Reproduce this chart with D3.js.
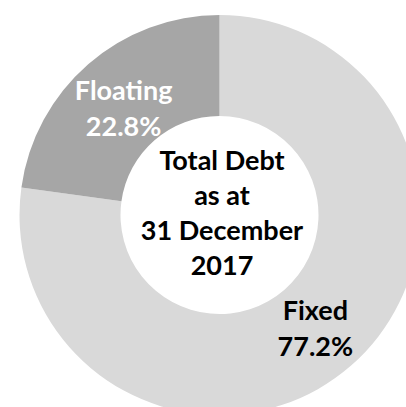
<!DOCTYPE html>
<html>
<head>
<meta charset="utf-8">
<script src="https://cdn.jsdelivr.net/npm/d3@7"></script>
<style>
  html, body { margin: 0; padding: 0; background: #fff; overflow: hidden; }
  svg text { font-family: Lato, "Open Sans", sans-serif; font-weight: bold; }
</style>
</head>
<body>
<div id="corpo"></div>
<script>
// data
var tipos = ["Fixed", "Floating"];
var valores = [77.2, 22.8];
var cores = ["#d9d9d9", "#a6a6a6"];
var corTexto = ["#000", "#fff"];
var centro = ["Total Debt", "as at", "31 December", "2017"];

var width = 406, height = 407;
var cx = 219.5, cy = 215;
var radius = 200;

var data = tipos.map(function(t, i){ return {tipo: t, valor: valores[i]}; });

var arc = d3.arc()
    .outerRadius(radius)
    .innerRadius(radius - 101);

var labelArc = d3.arc()
    .outerRadius(146)
    .innerRadius(146);

var pie = d3.pie()
    .sort(null)
    .value(function(d) { return d.valor; })(data);

var svg = d3.select("#corpo").append("svg")
    .attr("width", width)
    .attr("height", height)
    .append("g")
    .attr("transform", "translate(" + cx + "," + cy + ")");

var g = svg.selectAll(".arc")
    .data(pie)
    .enter().append("g")
    .attr("class", "arc");

g.append("path")
    .attr("d", arc)
    .style("fill", function(d, i) { return cores[i]; })
    .style("stroke", "none");

var lbl = g.append("text")
    .attr("transform", function(d) { return "translate(" + labelArc.centroid(d) + ")"; })
    .attr("text-anchor", "middle")
    .style("font-size", "27px")
    .style("fill", function(d, i) { return corTexto[i]; });

lbl.append("tspan")
    .attr("x", 0)
    .attr("y", -5)
    .text(function(d) { return d.data.tipo; });

lbl.append("tspan")
    .attr("x", 0)
    .attr("y", 31)
    .text(function(d) { return d.data.valor.toFixed(1) + "%"; });

// texto central
svg.append("text")
    .attr("text-anchor", "middle")
    .style("font-size", "27px")
    .style("fill", "#000")
    .selectAll("tspan")
    .data(centro)
    .enter().append("tspan")
    .attr("x", 2.5)
    .attr("y", function(d, i) { return -45 + i * 35; })
    .text(function(d) { return d; });
</script>
</body>
</html>
